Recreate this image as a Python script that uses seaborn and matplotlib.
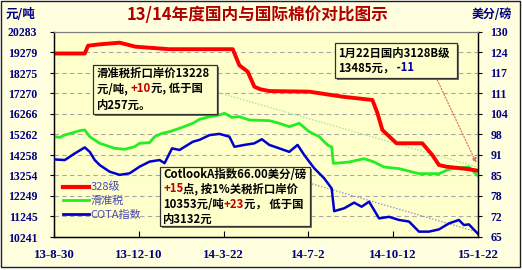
import matplotlib
matplotlib.use("Agg")
import matplotlib.pyplot as plt
import seaborn as sns
import pandas as pd
import numpy as np
from matplotlib.patches import Rectangle
from matplotlib.lines import Line2D

# ---------------- data ----------------
dates_328 = ["2013-08-30", "2013-10-06", "2013-10-10", "2013-10-24", "2013-11-17", "2013-12-06",
             "2014-01-16", "2014-04-02", "2014-04-10", "2014-04-20", "2014-04-28", "2014-05-05",
             "2014-05-16", "2014-07-03", "2014-08-12", "2014-09-17", "2014-09-23", "2014-09-29",
             "2014-10-16", "2014-11-16", "2014-11-28", "2014-12-06", "2014-12-15", "2015-01-11",
             "2015-01-22"]
vals_328 = [19230, 19230, 19612, 19680, 19760, 19563,
            19440, 19440, 18650, 18340, 17604, 17480,
            17390, 17360, 17114, 16953, 16316, 15483,
            14831, 14831, 14258, 13768, 13685, 13560,
            13485]

dates_hzs = ["2013-08-30", "2013-09-06", "2013-09-12", "2013-09-21", "2013-09-30", "2013-10-06",
             "2013-10-12", "2013-10-24", "2013-11-11", "2013-11-23", "2013-12-05", "2013-12-11",
             "2013-12-23", "2013-12-29", "2014-01-07", "2014-01-16", "2014-01-28", "2014-02-13",
             "2014-02-21", "2014-03-05", "2014-03-17", "2014-03-23", "2014-04-01", "2014-04-10",
             "2014-04-22", "2014-05-16", "2014-05-28", "2014-06-09", "2014-06-21", "2014-07-03",
             "2014-07-15", "2014-07-25", "2014-07-30", "2014-08-01", "2014-08-08", "2014-08-20",
             "2014-09-07", "2014-09-19", "2014-10-01", "2014-10-19", "2014-11-12", "2014-12-06",
             "2014-12-18", "2014-12-30", "2015-01-11", "2015-01-22"]
vals_hzs = [15155, 15120, 15238, 15340, 15450, 15483,
            15155, 14831, 14586, 14537, 14667, 14831,
            14863, 15155, 15320, 15400, 15565, 15810,
            16005, 16134, 16217, 16300, 16104, 16134,
            15973, 15940, 15810, 15645, 15810, 15400,
            15155, 14749, 14650, 13850, 13866, 13915,
            14078, 13915, 13670, 13589, 13344, 13344,
            13555, 13638, 13670, 13228]

dates_cota = ["2013-08-30", "2013-09-12", "2013-09-24", "2013-10-06", "2013-10-12", "2013-10-18",
              "2013-10-24", "2013-11-05", "2013-11-17", "2013-11-29", "2013-12-11", "2013-12-23",
              "2014-01-04", "2014-01-10", "2014-01-19", "2014-01-28", "2014-02-13", "2014-02-21",
              "2014-03-05", "2014-03-17", "2014-03-29", "2014-04-04", "2014-04-16", "2014-04-28",
              "2014-05-07", "2014-05-16", "2014-05-28", "2014-06-09", "2014-06-19", "2014-06-27",
              "2014-07-09", "2014-07-21", "2014-07-30", "2014-08-02", "2014-08-14", "2014-08-26",
              "2014-09-04", "2014-09-13", "2014-09-25", "2014-10-07", "2014-10-19", "2014-10-31",
              "2014-11-12", "2014-11-24", "2014-12-06", "2014-12-18", "2014-12-30", "2015-01-05",
              "2015-01-11", "2015-01-22"]
vals_cota = [89.6, 89.4, 91.5, 93.4, 92.0, 89.4,
             87.8, 85.7, 84.7, 85.2, 87.3, 88.9,
             89.4, 88.4, 93.1, 92.6, 95.2, 95.8,
             97.3, 97.7, 96.8, 93.6, 94.2, 94.7,
             96.0, 94.2, 93.1, 92.0, 94.2, 91.0,
             86.8, 83.6, 80.4, 73.2, 74.1, 75.9,
             74.6, 76.2, 70.9, 71.4, 70.4, 69.9,
             66.7, 66.7, 67.4, 69.3, 70.4, 68.8,
             69.0, 66.0]

series_labels = ["328级", "滑准税", "COTA指数"]
x_tick_dates = ["2013-08-30", "2013-12-10", "2014-03-22", "2014-07-02", "2014-10-12", "2015-01-22"]
x_tick_labels = ["13-8-30", "13-12-10", "14-3-22", "14-7-2", "14-10-12", "15-1-22"]
left_ticks = ["10241", "11245", "12249", "13254", "14258", "15262", "16266", "17270", "18275", "19279", "20283"]
right_ticks = ["65", "72", "78", "85", "91", "98", "104", "111", "117", "124", "130"]

title = "13/14年度国内与国际棉价对比图示"
left_unit = "元/吨"
right_unit = "美分/磅"

# trend/arrow guides (data coordinates)
green_guide = (["2014-03-13", "2015-01-21"], [17344, 13670])
blue_guide = (["2014-07-03", "2015-01-21"], [82.1, 66.6])
red_arrow = (["2014-12-04", "2015-01-20"], [17931, 13866])

# ---------------- figure ----------------
W, H = 522, 270
CJK = ["Noto Sans CJK SC", "DejaVu Sans"]
SERIF = ["Liberation Serif", "DejaVu Serif"]
NAVY = "#000080"

fig = plt.figure(figsize=(W / 100, H / 100), dpi=100, facecolor="white")
fig.patches.append(Rectangle((1 / W, 3 / H), 519 / W, 266 / H, transform=fig.transFigure,
                             facecolor="#FFFFE0", edgecolor="#202020", lw=1.0, zorder=-10))

ax = fig.add_axes([54 / W, (H - 237) / H, (478 - 54) / W, (237 - 32) / H])
ax.set_facecolor("#FFFFCC")
ax2 = ax.twinx()

d328 = pd.to_datetime(dates_328)
dh = pd.to_datetime(dates_hzs)
dc = pd.to_datetime(dates_cota)

sns.lineplot(x=dh, y=vals_hzs, ax=ax, color="#22EE22", lw=2.0, legend=False, zorder=3)
sns.lineplot(x=d328, y=vals_328, ax=ax, color="#FF0000", lw=2.8, legend=False, zorder=4)
sns.lineplot(x=dc, y=vals_cota, ax=ax2, color="#0000CC", lw=1.8, legend=False, zorder=3)

ax.plot(pd.to_datetime(green_guide[0]), green_guide[1], color="#90E090", lw=0.9, ls=(0, (1, 1.5)), zorder=2)
ax2.plot(pd.to_datetime(blue_guide[0]), blue_guide[1], color="#8080C0", lw=0.9, ls=(0, (1, 1.5)), zorder=2)
ax.annotate("", xy=(pd.Timestamp(red_arrow[0][1]), red_arrow[1][1]),
            xytext=(pd.Timestamp(red_arrow[0][0]), red_arrow[1][0]),
            arrowprops=dict(arrowstyle="-|>", color="#E07070", lw=0.9, ls=(0, (1, 1.5)),
                            mutation_scale=7, shrinkA=0, shrinkB=0), zorder=5)

xmin, xmax = pd.Timestamp(x_tick_dates[0]), pd.Timestamp(x_tick_dates[-1])
ax.set_xlim(xmin, xmax)
ax.set_ylim(float(left_ticks[0]), float(left_ticks[-1]))
ax2.set_ylim(float(right_ticks[0]), float(right_ticks[-1]))

lt = np.linspace(float(left_ticks[0]), float(left_ticks[-1]), len(left_ticks))
rt = np.linspace(float(right_ticks[0]), float(right_ticks[-1]), len(right_ticks))
tick_font = dict(family=SERIF, weight="bold", size=8.5)
ax.set_yticks(lt)
ax.set_yticklabels(left_ticks, fontdict=tick_font, color=NAVY)
ax2.set_yticks(rt)
ax2.set_yticklabels(right_ticks, fontdict=tick_font, color=NAVY)
ax.set_xticks(pd.to_datetime(x_tick_dates))
ax.set_xticklabels(x_tick_labels, fontdict=dict(family=SERIF, weight="bold", size=9.3), color=NAVY)
ax.set_xlabel("")
ax.set_ylabel("")
ax2.set_ylabel("")

ax.tick_params(axis="y", direction="out", length=3, pad=9, width=0.8)
ax2.tick_params(axis="y", direction="out", length=3, pad=6, width=0.8)
ax.tick_params(axis="x", direction="in", length=4, pad=9, width=0.8)

ax.yaxis.grid(True, color="#A8A8A8", lw=0.8, ls=(0, (4, 3)))
ax.set_axisbelow(True)
for a in (ax, ax2):
    for s in ("left", "bottom", "right"):
        a.spines[s].set_color("black")
        a.spines[s].set_linewidth(0.9)
    a.spines["top"].set_color("#808080")
    a.spines["top"].set_linewidth(0.8)

# titles
fig.text(258 / W, 1 - 15 / H, title, ha="center", va="center", fontsize=12, fontweight="bold",
         color="#B00000", family=CJK)
fig.text(21 / W, 1 - 15 / H, left_unit, ha="center", va="center", fontsize=9, fontweight="bold",
         color=NAVY, family=CJK)
fig.text(492 / W, 1 - 15 / H, right_unit, ha="center", va="center", fontsize=8.6, fontweight="bold",
         color=NAVY, family=CJK)

# legend
handles = [Line2D([], [], color="#FF0000", lw=3),
           Line2D([], [], color="#22EE22", lw=2),
           Line2D([], [], color="#0000CC", lw=2)]
leg = ax2.legend(handles, series_labels, loc="upper left", bbox_to_anchor=(63 / W, 1 - 182 / H),
                 bbox_transform=fig.transFigure, frameon=False, handlelength=2.3, handletextpad=0.2,
                 labelspacing=0.3, borderaxespad=0, borderpad=0, labelcolor="#4848B0",
                 prop=dict(family=CJK, size=8))
leg.set_zorder(6)

# annotation boxes
renderer = fig.canvas.get_renderer()


def box(x0, y0, x1, y1):
    fig.patches.append(Rectangle(((x0 + 2) / W, 1 - (y1 + 2) / H), (x1 - x0) / W, (y1 - y0) / H,
                                 transform=fig.transFigure, facecolor="#707070", edgecolor="none", zorder=7))
    fig.patches.append(Rectangle((x0 / W, 1 - y1 / H), (x1 - x0) / W, (y1 - y0) / H,
                                 transform=fig.transFigure, facecolor="#FFFFCC", edgecolor="#303030",
                                 lw=0.9, zorder=8))


def seg_line(x, y, parts, size=8.2):
    for s, c in parts:
        t = fig.text(x / W, 1 - y / H, s, color=c, fontsize=size, fontweight="bold",
                     va="center", ha="left", family=CJK, zorder=9)
        x += t.get_window_extent(renderer).width


RED = "#C00000"
box(93, 65, 217, 114)
seg_line(97, 73, [("滑准税折口岸价13228", "black")])
seg_line(97, 89, [("元/吨, ", "black"), ("+10", RED), ("元, 低于国", "black")])
seg_line(97, 105, [("内257元。", "black")])

box(335, 43, 457, 78)
seg_line(338, 53, [("1月22日国内3128B级", "black")])
seg_line(338, 68, [("13485元，", "black"), (" -11", "#0000A0")])

box(160, 167, 310, 226)
seg_line(163, 174, [("CotlookA指数66.00美分/磅", "black")])
seg_line(163, 189, [("+15", RED), ("点, 按1%关税折口岸价", "black")])
seg_line(163, 204, [("10353元/吨", "black"), ("+23", RED), ("元， 低于国", "black")])
seg_line(163, 219, [("内3132元", "black")])

fig.savefig("out.png", dpi=100, facecolor=fig.get_facecolor())
